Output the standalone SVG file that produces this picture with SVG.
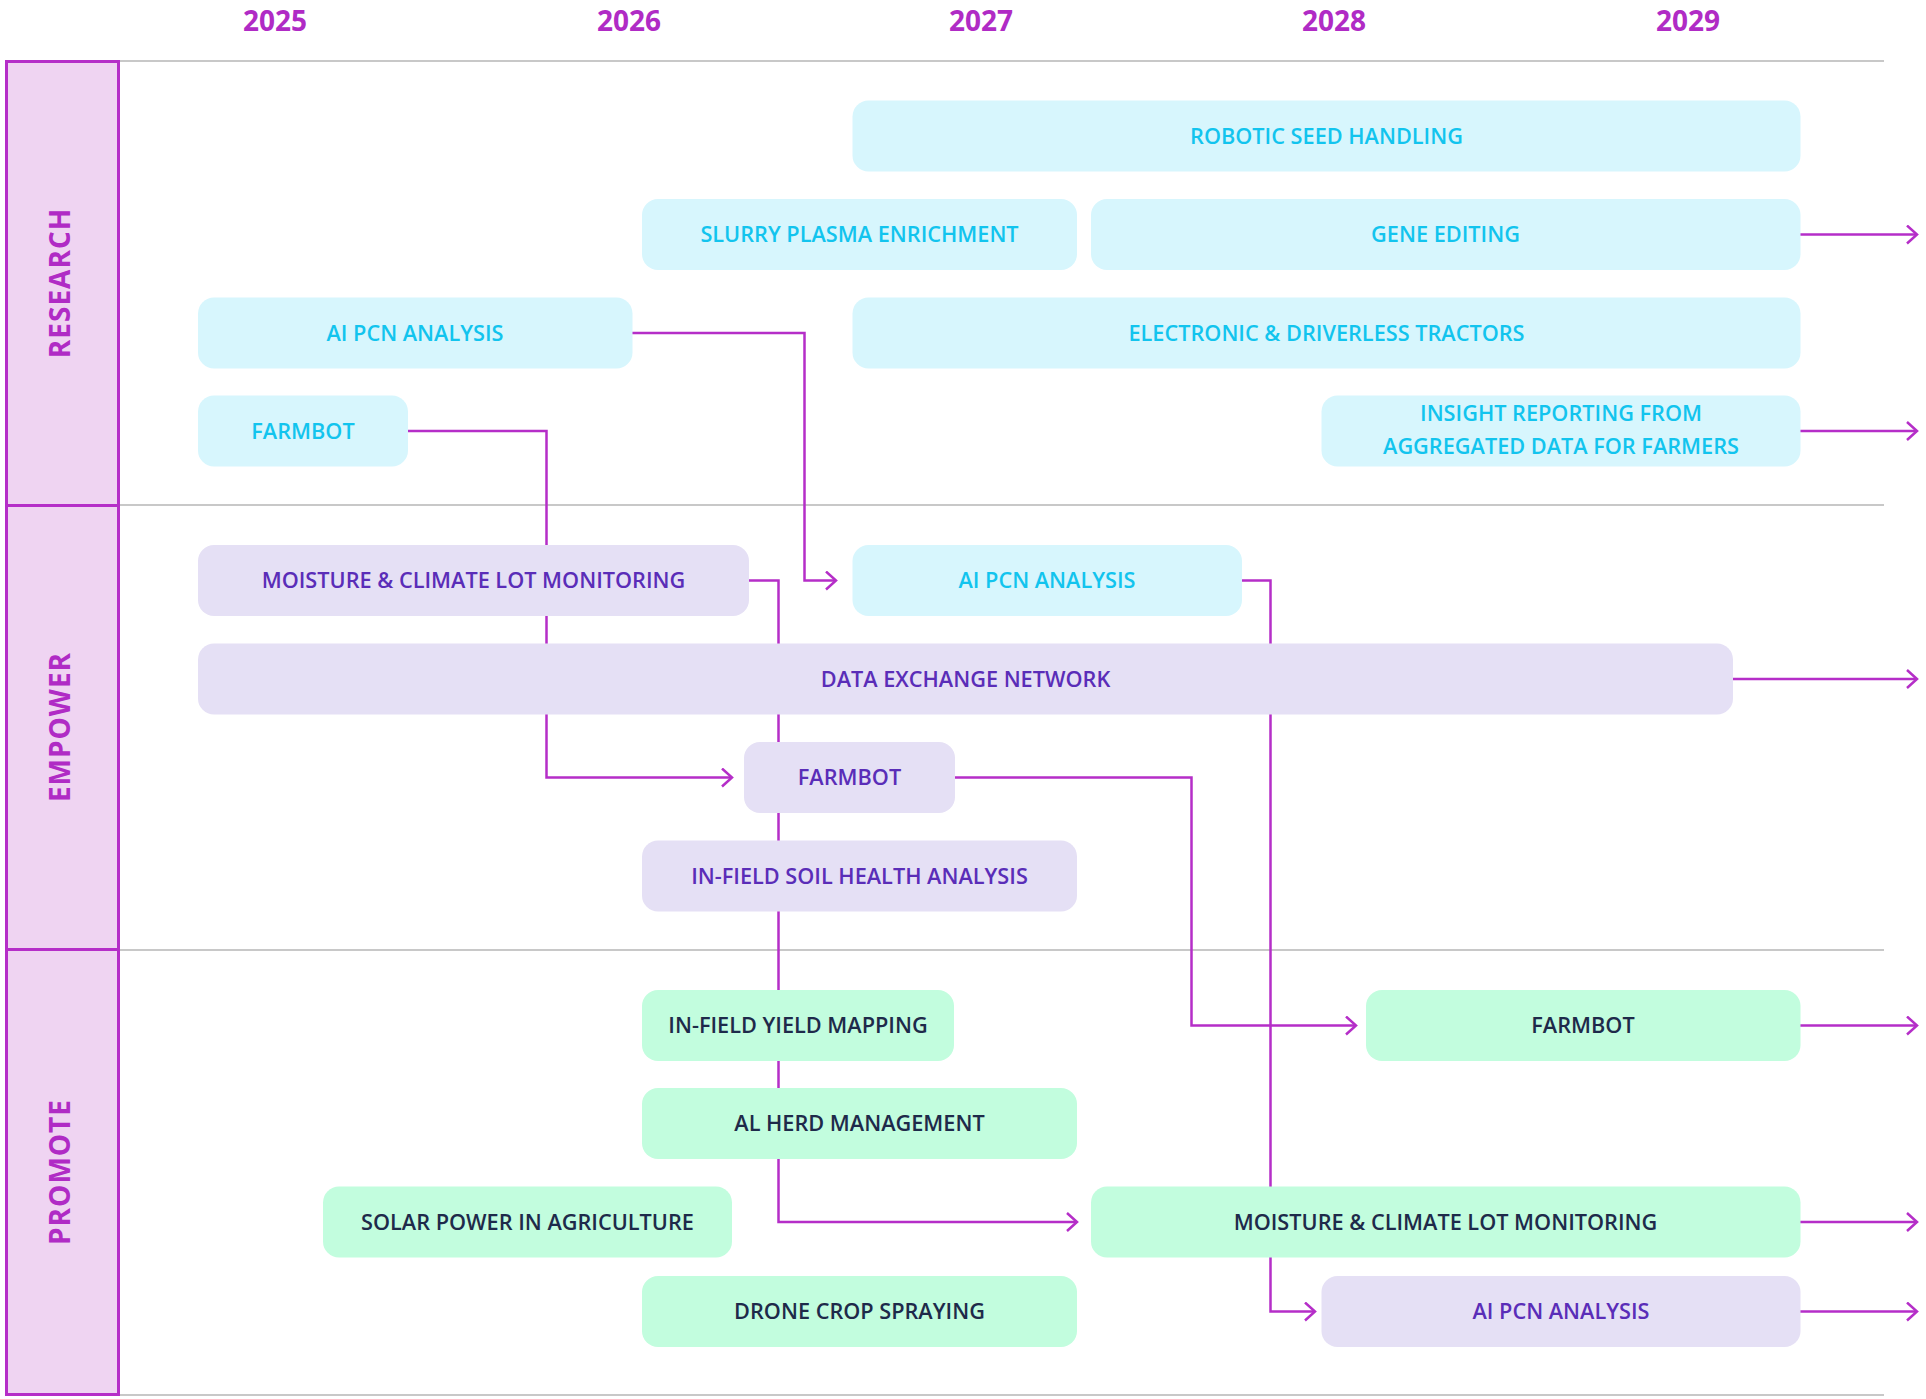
<svg xmlns="http://www.w3.org/2000/svg" width="1926" height="1399" viewBox="0 0 1926 1399">
<style>
.grid{stroke:#C8C8C8;stroke-width:2;fill:none}
.band{fill:#EFD4F2;stroke:#B52EC8;stroke-width:3}
.bandlbl{font-family:"Open Sans","Liberation Sans",sans-serif;font-weight:700;font-size:28px;fill:#B02BC5;letter-spacing:1px}
.year{font-family:"Open Sans","Liberation Sans",sans-serif;font-weight:700;font-size:28px;fill:#B02BC5}
.lbl{font-family:"Open Sans","Liberation Sans",sans-serif;font-weight:600;font-size:21.7px;text-anchor:middle}
.cy rect{fill:#D7F6FD}
.cy text{fill:#12C4EE}
.lv rect{fill:#E5E0F5}
.lv text{fill:#5A2DB8}
.gr rect{fill:#C2FDDE}
.gr text{fill:#1E2A4A}
.conn path{fill:none;stroke:#B52EC8;stroke-width:2.5}
</style>
<defs>
<marker id="arr" markerUnits="userSpaceOnUse" markerWidth="16" markerHeight="24" refX="12" refY="10" orient="auto">
<path d="M2,1 L12,10 L2,19" fill="none" stroke="#B52EC8" stroke-width="2.5"/>
</marker>
</defs>
<rect width="1926" height="1399" fill="#FFFFFF"/>
<g id="years">
<text class="year" x="275" y="31" text-anchor="middle">2025</text>
<text class="year" x="629" y="31" text-anchor="middle">2026</text>
<text class="year" x="981" y="31" text-anchor="middle">2027</text>
<text class="year" x="1334" y="31" text-anchor="middle">2028</text>
<text class="year" x="1688" y="31" text-anchor="middle">2029</text>
</g>
<g id="gridlines">
<line class="grid" x1="119" y1="61" x2="1884" y2="61"/>
<line class="grid" x1="119" y1="505" x2="1884" y2="505"/>
<line class="grid" x1="119" y1="950" x2="1884" y2="950"/>
<line class="grid" x1="119" y1="1395" x2="1884" y2="1395"/>
</g>
<g id="bands">
<rect class="band" x="6.5" y="61.5" width="112" height="444"/>
<rect class="band" x="6.5" y="505.5" width="112" height="444"/>
<rect class="band" x="6.5" y="949.5" width="112" height="445"/>
<text class="bandlbl" transform="translate(70,283) rotate(-90)" text-anchor="middle">RESEARCH</text>
<text class="bandlbl" transform="translate(70,727) rotate(-90)" text-anchor="middle">EMPOWER</text>
<text class="bandlbl" transform="translate(70,1172) rotate(-90)" text-anchor="middle">PROMOTE</text>
</g>
<g id="connectors" class="conn">
<path d="M632,333 H804.5 V580.5 H836" marker-end="url(#arr)"/>
<path d="M408,431 H546.5 V777.5 H732" marker-end="url(#arr)"/>
<path d="M749,580.5 H778.5 V1222 H1077" marker-end="url(#arr)"/>
<path d="M1242,580.5 H1270.5 V1311.5 H1315" marker-end="url(#arr)"/>
<path d="M955,777.5 H1191.5 V1025.5 H1356" marker-end="url(#arr)"/>
<path d="M1800,234.5 H1917" marker-end="url(#arr)"/>
<path d="M1800,431 H1917" marker-end="url(#arr)"/>
<path d="M1733,679 H1917" marker-end="url(#arr)"/>
<path d="M1800,1025.5 H1917" marker-end="url(#arr)"/>
<path d="M1800,1222 H1917" marker-end="url(#arr)"/>
<path d="M1800,1311.5 H1917" marker-end="url(#arr)"/>
</g>
<g id="n-robotic" class="cy"><rect x="852.5" y="100.5" width="948" height="71" rx="16"/><text class="lbl" x="1326.5" y="143.5">ROBOTIC SEED HANDLING</text></g>
<g id="n-slurry" class="cy"><rect x="642" y="199" width="435" height="71" rx="16"/><text class="lbl" x="859.5" y="242">SLURRY PLASMA ENRICHMENT</text></g>
<g id="n-gene" class="cy"><rect x="1091" y="199" width="709.5" height="71" rx="16"/><text class="lbl" x="1445.5" y="242">GENE EDITING</text></g>
<g id="n-aipcn-r" class="cy"><rect x="198" y="297.5" width="434.5" height="71" rx="16"/><text class="lbl" x="415" y="340.5">AI PCN ANALYSIS</text></g>
<g id="n-tractors" class="cy"><rect x="852.5" y="297.5" width="948" height="71" rx="16"/><text class="lbl" x="1326.5" y="340.5">ELECTRONIC &amp; DRIVERLESS TRACTORS</text></g>
<g id="n-farmbot-r" class="cy"><rect x="198" y="395.5" width="210" height="71" rx="16"/><text class="lbl" x="303" y="438.5">FARMBOT</text></g>
<g id="n-insight" class="cy"><rect x="1321.5" y="395.5" width="479" height="71" rx="16"/><text class="lbl" x="1561" y="421">INSIGHT REPORTING FROM</text><text class="lbl" x="1561" y="454">AGGREGATED DATA FOR FARMERS</text></g>
<g id="n-moisture-e" class="lv"><rect x="198" y="545" width="551" height="71" rx="16"/><text class="lbl" x="473.5" y="588">MOISTURE &amp; CLIMATE LOT MONITORING</text></g>
<g id="n-aipcn-e" class="cy"><rect x="852.5" y="545" width="389.5" height="71" rx="16"/><text class="lbl" x="1047" y="588">AI PCN ANALYSIS</text></g>
<g id="n-dataexchange" class="lv"><rect x="198" y="643.5" width="1535" height="71" rx="16"/><text class="lbl" x="965.5" y="686.5">DATA EXCHANGE NETWORK</text></g>
<g id="n-farmbot-e" class="lv"><rect x="744" y="742" width="211" height="71" rx="16"/><text class="lbl" x="849.5" y="785">FARMBOT</text></g>
<g id="n-soil" class="lv"><rect x="642" y="840.5" width="435" height="71" rx="16"/><text class="lbl" x="859.5" y="883.5">IN-FIELD SOIL HEALTH ANALYSIS</text></g>
<g id="n-yield" class="gr"><rect x="642" y="990" width="312" height="71" rx="16"/><text class="lbl" x="798" y="1033">IN-FIELD YIELD MAPPING</text></g>
<g id="n-farmbot-p" class="gr"><rect x="1366" y="990" width="434.5" height="71" rx="16"/><text class="lbl" x="1583" y="1033">FARMBOT</text></g>
<g id="n-herd" class="gr"><rect x="642" y="1088" width="435" height="71" rx="16"/><text class="lbl" x="859.5" y="1131">AL HERD MANAGEMENT</text></g>
<g id="n-solar" class="gr"><rect x="323" y="1186.5" width="409" height="71" rx="16"/><text class="lbl" x="527.5" y="1229.5">SOLAR POWER IN AGRICULTURE</text></g>
<g id="n-moisture-p" class="gr"><rect x="1091" y="1186.5" width="709.5" height="71" rx="16"/><text class="lbl" x="1445.5" y="1229.5">MOISTURE &amp; CLIMATE LOT MONITORING</text></g>
<g id="n-drone" class="gr"><rect x="642" y="1276" width="435" height="71" rx="16"/><text class="lbl" x="859.5" y="1319">DRONE CROP SPRAYING</text></g>
<g id="n-aipcn-p" class="lv"><rect x="1321.5" y="1276" width="479" height="71" rx="16"/><text class="lbl" x="1561" y="1319">AI PCN ANALYSIS</text></g>
</svg>
